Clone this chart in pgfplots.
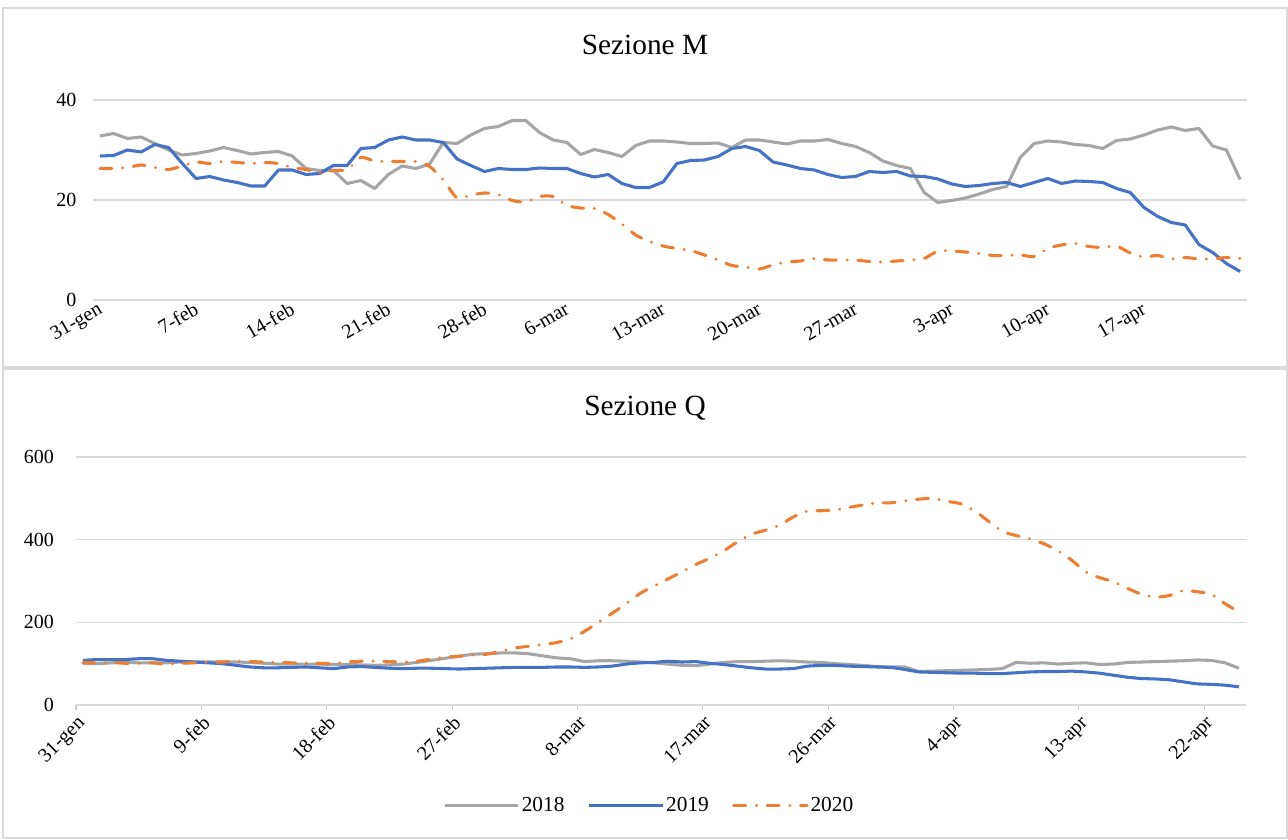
\documentclass[border=0pt]{standalone}
\usepackage{fontspec}
\setmainfont{Liberation Serif}
\usepackage{pgfplots}
\pgfplotsset{compat=1.18}
\usepackage{pgfplotstable}
\definecolor{c18}{HTML}{A5A5A5}
\definecolor{c19}{HTML}{4472C4}
\definecolor{c20}{HTML}{ED7D31}
\definecolor{gridc}{HTML}{D9D9D9}

\pgfplotstableread{
d m18 m19 m20
0 32.8 28.8 26.3
1 33.3 28.9 26.3
2 32.3 30.0 26.5
3 32.6 29.6 27.0
4 31.3 31.1 26.5
5 30.0 30.5 26.1
6 29.0 27.3 26.8
7 29.3 24.3 27.6
8 29.8 24.7 27.3
9 30.5 24.0 27.7
10 29.9 23.5 27.5
11 29.2 22.8 27.3
12 29.5 22.8 27.5
13 29.7 26.0 27.3
14 28.8 26.0 26.5
15 26.3 25.1 26.1
16 25.9 25.3 25.5
17 25.9 26.9 25.9
18 23.3 26.9 26.1
19 23.9 30.3 28.5
20 22.3 30.5 27.8
21 25.1 32.0 27.7
22 26.8 32.6 27.7
23 26.3 32.0 27.7
24 27.2 32.0 26.7
25 31.5 31.5 24.0
26 31.3 28.2 20.4
27 33.0 26.9 21.0
28 34.3 25.7 21.4
29 34.7 26.3 21.1
30 35.9 26.1 19.9
31 35.9 26.1 19.6
32 33.5 26.4 20.7
33 32.0 26.3 20.7
34 31.5 26.3 18.9
35 29.1 25.3 18.4
36 30.1 24.6 18.3
37 29.5 25.1 17.1
38 28.7 23.3 15.2
39 30.9 22.5 13.0
40 31.8 22.5 11.7
41 31.8 23.6 10.8
42 31.6 27.3 10.3
43 31.3 27.9 9.9
44 31.3 28.0 9.0
45 31.4 28.7 8.0
46 30.5 30.3 6.9
47 32.0 30.7 6.6
48 32.0 29.9 6.2
49 31.6 27.6 7.0
50 31.2 27.0 7.6
51 31.8 26.3 7.8
52 31.8 26.0 8.3
53 32.1 25.1 8.0
54 31.3 24.5 8.0
55 30.7 24.7 8.0
56 29.5 25.7 7.7
57 27.8 25.5 7.6
58 26.9 25.7 7.8
59 26.3 24.8 8.0
60 21.5 24.7 8.3
61 19.5 24.2 9.8
62 19.9 23.2 9.8
63 20.4 22.7 9.6
64 21.2 22.9 9.3
65 22.1 23.3 8.9
66 22.7 23.5 8.9
67 28.5 22.7 9.0
68 31.3 23.5 8.7
69 31.8 24.3 10.3
70 31.6 23.3 11.0
71 31.1 23.8 11.3
72 30.9 23.7 10.7
73 30.3 23.5 10.5
74 31.9 22.3 10.8
75 32.2 21.5 9.4
76 33.0 18.5 8.6
77 34.0 16.7 8.9
78 34.6 15.5 8.2
79 33.9 15.0 8.5
80 34.3 11.1 8.2
81 30.8 9.5 8.2
82 30.0 7.3 8.5
83 24.1 5.7 8.3
}\topdata

\pgfplotstableread{
d q18 q19 q20
0 100 108 103
1 100 110 102
2 102 110 103
3 103 110 101
4 102 112 101
5 102 112 102
6 102 108 99
7 104 106 101
8 104 104 102
9 104 102 104
10 104 100 104
11 104 96 106
12 103 92 105
13 101 90 104
14 99 90 103
15 99 91 102
16 99 92 101
17 99 90 101
18 98 88 100
19 98 92 104
20 97 93 106
21 96 91 106
22 97 89 105
23 99 88 104
24 103 89 106
25 108 89 111
26 113 88 116
27 118 87 118
28 123 88 121
29 124 89 123
30 126 90 130
31 126 91 138
32 124 91 142
33 119 91 146
34 114 92 151
35 112 92 160
36 105 91 178
37 107 92 200
38 107 94 222
39 106 99 245
40 104 102 270
41 102 103 288
42 99 106 305
43 96 104 322
44 95 105 340
45 99 101 355
46 103 98 373
47 105 94 395
48 105 90 413
49 106 87 423
50 107 87 435
51 106 88 455
52 104 94 469
53 103 96 470
54 100 96 472
55 98 94 478
56 96 93 484
57 93 92 489
58 92 91 489
59 92 86 494
60 81 80 498
61 82 79 500
62 83 78 493
63 84 77 487
64 85 77 470
65 86 76 445
66 88 76 420
67 103 78 410
68 101 80 402
69 102 81 390
70 99 81 373
71 101 82 350
72 102 80 322
73 98 77 308
74 99 72 298
75 103 67 282
76 104 64 268
77 105 63 261
78 106 61 265
79 107 56 277
80 109 51 274
81 108 50 268
82 102 48 245
83 89 44 225
}\botdata

\pgfplotsset{
  common/.style={
    scale only axis,
    axis lines*=left,
    y axis line style={draw=none},
    x axis line style={draw=gridc, line width=0.9pt},
    ymajorgrids,
    major grid style={draw=gridc, line width=0.9pt},
    ytick style={draw=none},
    tick label style={font=\fontsize{15}{18}\selectfont},
    yticklabel style={xshift=-9pt},
    /pgf/number format/assume math mode=true,
    xmin=0, xmax=84, ymin=0,
    clip=false,
  },
  s18/.style={c18, line width=2.3pt, line join=round},
  s19/.style={c19, line width=2.3pt, line join=round},
  s20/.style={c20, line width=2.3pt, line cap=round, line join=round,
    dash pattern=on 9pt off 8pt on 0.1pt off 8pt, smooth, tension=0.4},
}

\begin{document}
\begin{tikzpicture}
\path (0pt,0pt) rectangle (966pt,629.25pt);
\draw[gridc, line width=0.9pt] (2.25pt,623.25pt) rectangle (965.25pt,354pt);
\draw[gridc, line width=0.9pt] (2.25pt,352.5pt) rectangle (965.25pt,0.75pt);

\node[font=\fontsize{22}{26}\selectfont] at (483.75pt,595.5pt) {Sezione M};
\node[font=\fontsize{22}{26}\selectfont] at (483.75pt,323.25pt) {Sezione Q};

\begin{axis}[common,
  at={(69.75pt,404.25pt)}, anchor=south west,
  width=865.5pt, height=150pt,
  ymax=40, ytick={0,20,40},
  xtick={0,7,14,21,28,34,41,48,55,62,69,76},
  xticklabels={31-gen,7-feb,14-feb,21-feb,28-feb,6-mar,13-mar,20-mar,27-mar,3-apr,10-apr,17-apr},
  xtick style={draw=none},
  xticklabel style={rotate=30, anchor=north east, inner sep=2pt, xshift=4pt},
]
\addplot[s18] table[x expr=\thisrow{d}+0.5, y=m18] {\topdata};
\addplot[s19] table[x expr=\thisrow{d}+0.5, y=m19] {\topdata};
\addplot[s20] table[x expr=\thisrow{d}+0.5, y=m20] {\topdata};
\end{axis}

\begin{axis}[common,
  at={(57pt,100.5pt)}, anchor=south west,
  width=877.5pt, height=186pt,
  ymax=600, ytick={0,200,400,600},
  xtick={0,9,18,27,36,45,54,63,72,81},
  xticklabels={31-gen,9-feb,18-feb,27-feb,8-mar,17-mar,26-mar,4-apr,13-apr,22-apr},
  tick align=outside, major tick length=4pt,
  xtick style={draw=gray!45, line width=0.8pt},
  xticklabel style={rotate=45, anchor=north east, inner sep=2pt},
  legend style={at={(axis description cs:0.49,-0.405)}, anchor=center, draw=none,
    legend columns=3, font=\fontsize{16}{19}\selectfont,
    nodes={inner xsep=1.5pt},
    /tikz/every even column/.append style={column sep=16pt}},
  legend image code/.code={\draw[#1] (0pt,0pt) -- (55pt,0pt);},
]
\addplot[s18] table[x expr=\thisrow{d}+0.5, y=q18] {\botdata};
\addlegendentry{2018}
\addplot[s19] table[x expr=\thisrow{d}+0.5, y=q19] {\botdata};
\addlegendentry{2019}
\addplot[s20] table[x expr=\thisrow{d}+0.5, y=q20] {\botdata};
\addlegendentry{2020}
\end{axis}
\end{tikzpicture}
\end{document}
